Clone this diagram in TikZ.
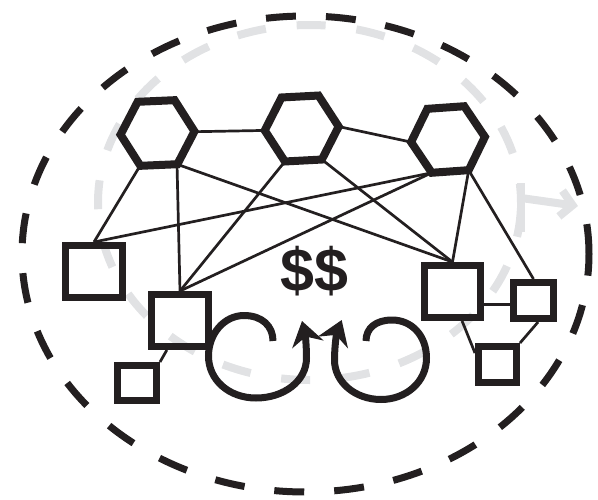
\documentclass[tikz,border=0pt]{standalone}
\usepackage{fontspec}
\newfontfamily\dolfont{Liberation Sans}
\usetikzlibrary{shapes.geometric,arrows.meta}
\definecolor{ink}{RGB}{35,31,32}
\definecolor{lgray}{RGB}{225,226,228}
\begin{document}
\begin{tikzpicture}[x=1pt,y=-1pt,
  hexa/.style={regular polygon, regular polygon sides=6, minimum size=74pt, inner sep=0pt, outer sep=0pt, draw=ink, line width=8pt},
  sq/.style={rectangle, draw=ink, line width=7pt, inner sep=0pt, outer sep=3.5pt},
  edgeline/.style={draw=ink, line width=2.7pt},
  curl/.style={draw=ink, line width=7pt, -{Stealth[length=24pt,width=32pt,inset=8pt]}},
  outerdash/.style={draw=ink, line width=7pt, dash pattern=on 30pt off 30pt},
  graydash/.style={draw=lgray, line width=8pt, dash pattern=on 29pt off 31pt, dash phase=10pt},
  grayline/.style={draw=lgray, line width=8pt},
]
\useasboundingbox (0,0) rectangle (598,499);

% gray dashed ellipse with its arrow
\coordinate (gc) at (309.5,202.5);
\draw[graydash] (gc) ++(211.5,0) arc[start angle=0,end angle=-360,x radius=211.5,y radius=177.5];
\coordinate (gt) at (521,183);
\coordinate (gu) at (521,232);
\coordinate (ga) at (521,198);
\coordinate (gb) at (578,206);
\draw[grayline] (gt) -- (gu);
\draw[grayline, -{Straight Barb[length=12pt,width=26pt]}] (ga) -- (gb);

% black dashed ellipse
\coordinate (ec) at (305.5,254);
\draw[outerdash] (ec) ++(283.5,0) arc[start angle=0,end angle=-360,x radius=283.5,y radius=238];

% hexagons
\node[hexa, shape border rotate=2.5] (h1) at (157.5,133) {};
\node[hexa, shape border rotate=3] (h2) at (301.7,128.5) {};
\node[hexa, shape border rotate=4] (h3) at (448,139.5) {};

% squares
\node[sq, minimum width=57pt, minimum height=52pt] (s1) at (94,271.5) {};
\node[sq, minimum width=57pt, minimum height=52pt] (s2) at (180,320.5) {};
\node[sq, minimum width=39pt, minimum height=35pt] (s3) at (137,383) {};
\node[sq, minimum width=56pt, minimum height=52pt] (s4) at (452.5,291.5) {};
\node[sq, minimum width=40pt, minimum height=36pt] (s5) at (533.5,300.5) {};
\node[sq, minimum width=38pt, minimum height=36pt] (s6) at (497.5,364.5) {};

% connectors
\draw[edgeline] (h1.2.5) -- (h2.183);
\draw[edgeline] (h2.3) -- (h3.184);
\draw[edgeline] (h1.242.5) -- (s1.north);
\draw[edgeline] (h1.302.5) -- (s2.north);
\draw[edgeline] (h1.302.5) -- (s4.north);
\draw[edgeline] (h2.243) -- (s2.north);
\draw[edgeline] (h2.303) -- (s4.north);
\draw[edgeline] (h3.244) -- (s1.north);
\draw[edgeline] (h3.244) -- (s2.north);
\draw[edgeline] (h3.304) -- (s4.north);
\draw[edgeline] (h3.304) -- (s5.north);
\draw[edgeline] ([yshift=-4pt]s5.west) -- ([yshift=-4pt]s5.west -| s4.east);
\draw[edgeline] (s4.-72) -- (s6.153);
\draw[edgeline] (s5.-78) -- (s6.north east);
\draw[edgeline] (s2.-114) -- (s3.north east);

% curling arrows
\coordinate (la) at (273,341);
\coordinate (lb) at (302,321);
\draw[curl] (la) .. controls (273,326) and (262,315.5) .. (244,315.5)
  .. controls (224,315.5) and (208.5,334) .. (208.5,356)
  .. controls (208.5,380) and (229,398) .. (256,398)
  .. controls (284,398) and (306.5,381) .. (306.5,358)
  .. controls (306.5,345) and (305,333) .. (lb);
\coordinate (ra) at (366,341);
\coordinate (rb) at (341.7,320);
\draw[curl] (ra) .. controls (366,328) and (376,320) .. (392,320)
  .. controls (412,320) and (426.5,336) .. (426.5,358)
  .. controls (426.5,382) and (406,399.5) .. (381,399.5)
  .. controls (355,399.5) and (334.5,382) .. (334.5,360)
  .. controls (334.5,345) and (337,332) .. (rb);

% money
\node[font=\dolfont\bfseries\fontsize{61}{66}\selectfont, text=ink, inner sep=0pt] (money) at (314.7,271.5) {\$\$};
\end{tikzpicture}
\end{document}
